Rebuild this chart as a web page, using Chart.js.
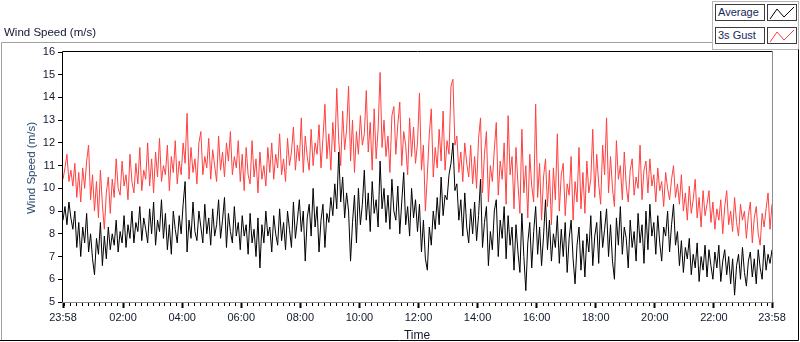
<!DOCTYPE html>
<html>
<head>
<meta charset="utf-8">
<script src="https://cdn.jsdelivr.net/npm/chart.js@4.4.1/dist/chart.umd.min.js"></script>
<style>
body { margin: 0; background: #fff; }
#wrap { position: relative; width: 800px; height: 342px; overflow: hidden; font-family: "Liberation Sans", Arial, sans-serif; }
#windChart { position: absolute; left: 0; top: 0; }
.txt { position: absolute; white-space: nowrap; color: #10182e; }
.legBox { position: absolute; left: 715px; width: 46px; height: 15px; border: 1px solid #3c3c3c; background: #fff; font-size: 11px; line-height: 15px; padding-left: 2px; color: #14285a; box-sizing: content-box; }
.legLine { position: absolute; left: 767px; width: 28px; height: 15px; border: 1px solid #3c3c3c; background: #fff; }
</style>
</head>
<body>
<div id="wrap">
  <canvas id="windChart" width="800" height="342"></canvas>
  <div class="txt" style="left:4px;top:25px;font-size:11.5px;line-height:14px;">Wind Speed (m/s)</div>
  <div class="txt" style="left:31px;top:168px;font-size:11.5px;line-height:14px;color:#23456e;transform:translate(-50%,-50%) rotate(-90deg);">Wind Speed (m/s)</div>
  <div class="txt" style="left:417px;top:335px;font-size:12px;line-height:14px;transform:translate(-50%,-50%);">Time</div>
  <div class="legBox" style="top:4px;">Average</div>
  <div class="legLine" style="top:4px;"><svg width="28" height="15"><polyline points="2,14 9,4 16,12 26,2" fill="none" stroke="#000" stroke-width="1"/></svg></div>
  <div class="legBox" style="top:27px;">3s Gust</div>
  <div class="legLine" style="top:27px;"><svg width="28" height="15"><polyline points="2,14 9,4 16,12 26,2" fill="none" stroke="#ff4040" stroke-width="1"/></svg></div>
</div>
<script>
// one sample every 4 minutes, starting at 23:58 (minute 0)
const stepMinutes = 4;

const avgSpeed = [
    8.6, 9.2, 8.4, 9.4, 8.7, 8.2, 9.0, 7.4, 8.5, 7.0,
    8.3, 7.6, 8.9, 7.2, 8.0, 6.9, 6.2, 7.8, 7.1, 8.5,
    6.6, 7.9, 6.9, 8.3, 7.3, 8.0, 7.5, 8.6, 7.2, 8.1,
    7.6, 8.8, 7.4, 8.4, 7.8, 9.0, 7.6, 8.5, 8.1, 9.2,
    7.7, 8.7, 8.2, 7.6, 9.1, 8.0, 9.4, 7.5, 8.6, 8.1,
    9.5, 7.8, 8.9, 7.3, 8.4, 7.1, 9.0, 8.2, 7.6, 8.8,
    8.0, 9.3, 10.3, 7.2, 8.6, 7.8, 9.4, 8.1, 7.7, 9.0,
    8.3, 7.6, 9.3, 8.0, 8.7, 7.5, 9.1, 7.9, 8.4, 9.5,
    7.8, 8.6, 9.6, 7.4, 8.9, 8.1, 7.6, 9.2, 7.9, 8.5,
    7.3, 8.8, 7.9, 8.4, 7.1, 8.9, 7.6, 8.2, 7.0, 8.7,
    6.5, 8.4, 7.6, 9.0, 7.9, 8.3, 7.2, 8.8, 8.0, 7.5,
    9.1, 7.7, 8.5, 7.3, 9.0, 8.2, 7.4, 9.4, 7.8, 8.6,
    9.5, 8.1, 9.0, 6.8, 8.7, 9.3, 7.9, 10.0, 8.3, 9.2,
    7.2, 8.6, 9.3, 7.4, 8.9, 8.5, 9.6, 8.8, 10.2, 9.1,
    11.6, 9.4, 10.5, 8.7, 9.8, 9.0, 6.8, 8.5, 9.7, 7.6,
    10.0, 8.4, 9.3, 10.8, 8.6, 9.8, 8.1, 10.3, 8.9, 9.5,
    8.3, 11.2, 9.1, 10.0, 8.5, 9.7, 8.2, 10.4, 9.0, 8.6,
    10.1, 8.0, 9.4, 10.7, 8.4, 9.2, 7.9, 10.0, 8.7, 9.5,
    8.1, 9.3, 7.2, 8.6, 6.9, 6.4, 8.3, 7.5, 9.0, 8.2,
    9.6, 8.4, 10.5, 8.8, 9.7, 9.5, 10.6, 11.1, 12.0, 9.9,
    10.2, 8.6, 9.5, 7.9, 9.8, 8.3, 7.6, 9.1, 8.0, 9.4,
    7.7, 8.8, 10.4, 7.4, 8.5, 9.2, 6.6, 8.1, 7.3, 9.0,
    9.5, 7.0, 8.6, 7.8, 9.2, 6.9, 8.8, 7.5, 8.3, 6.4,
    8.4, 7.2, 6.3, 8.9, 7.0, 5.5, 7.6, 8.5, 6.5, 8.1,
    9.2, 7.1, 8.3, 6.6, 7.9, 9.5, 7.3, 8.6, 6.8, 8.0,
    7.4, 8.8, 6.7, 8.2, 7.0, 8.5, 6.3, 7.8, 8.6, 6.9,
    5.8, 7.5, 8.3, 6.4, 7.7, 6.1, 8.0, 7.2, 8.8, 6.6,
    7.9, 8.5, 6.7, 9.0, 7.4, 8.2, 9.1, 7.0, 8.4, 6.8,
    6.0, 8.7, 7.5, 9.2, 7.1, 8.3, 7.8, 6.5, 8.6, 7.4,
    8.1, 6.8, 8.9, 7.6, 8.4, 6.7, 9.0, 7.3, 9.3, 7.9,
    8.5, 7.1, 8.8, 7.6, 6.8, 8.3, 7.9, 9.0, 7.2, 8.4,
    9.3, 7.5, 8.1, 6.6, 7.7, 6.3, 7.4, 6.9, 7.8, 6.2,
    7.1, 6.5, 7.6, 5.9, 7.0, 6.4, 7.5, 6.1, 7.3, 6.6,
    6.0, 7.2, 6.5, 7.5, 5.9, 6.8, 7.3, 6.2, 7.0, 5.8,
    6.9, 5.3, 6.6, 7.1, 6.0, 7.4, 6.3, 5.7, 6.8, 7.2,
    6.1, 6.9, 5.8, 7.3, 6.5, 6.0, 7.5, 6.4, 7.1, 6.7,
    7.3
];

const gustSpeed = [
    10.4, 10.9, 11.5, 10.3, 10.8, 10.1, 11.1, 9.6, 10.7, 9.4,
    10.9, 10.0, 11.2, 11.9, 9.5, 10.6, 9.0, 10.3, 8.7, 10.8,
    9.3, 8.2, 9.8, 10.5, 8.9, 10.4, 9.6, 11.3, 10.0, 9.7,
    11.2, 10.1, 10.6, 9.5, 11.5, 10.3, 9.8, 11.1, 10.2, 11.8,
    9.9, 10.8, 10.4, 12.0, 10.1, 11.3, 9.8, 11.6, 10.5, 12.2,
    10.3, 11.0, 10.6, 11.9, 9.9, 11.4, 10.7, 12.1, 10.2, 11.2,
    10.6, 12.0, 11.1, 13.3, 10.4, 11.8, 10.7, 11.3, 10.2, 12.0,
    12.5, 10.6, 11.4, 10.9, 12.2, 10.4, 11.7, 11.0, 10.3, 12.3,
    10.8, 11.6, 10.5, 12.0, 11.2, 12.5, 10.6, 11.4, 10.9, 12.1,
    10.3, 11.5, 9.9, 11.8, 10.6, 10.2, 12.1, 10.5, 11.3, 9.8,
    11.6, 10.4, 11.0, 10.1, 11.8, 10.7, 12.0, 10.4, 11.5, 10.9,
    12.4, 10.6, 11.3, 10.3, 12.2, 11.0, 11.6, 12.7, 10.8, 11.9,
    11.2, 13.1, 10.7, 12.3, 11.4, 10.8, 12.6, 11.0, 12.0, 11.5,
    12.8, 10.9, 12.2, 13.7, 11.3, 12.4, 10.8, 12.9, 11.6, 14.4,
    12.1, 11.0, 13.4, 11.7, 12.6, 14.5, 11.2, 13.0, 10.7, 12.5,
    11.5, 13.2, 11.9, 12.4, 14.3, 11.6, 12.9, 10.8, 13.5, 11.3,
    12.6, 15.1, 11.8, 13.0, 11.4, 12.3, 10.7, 13.2, 13.6, 11.5,
    12.8, 13.8, 11.0, 12.5, 11.9, 10.6, 13.1, 11.4, 12.7, 11.1,
    12.0, 14.2, 10.8, 11.9, 9.0, 10.6, 12.4, 13.5, 10.5, 11.8,
    10.9, 12.6, 11.2, 13.4, 10.8, 12.1, 11.5, 14.5, 14.8, 11.9,
    12.3, 10.7, 11.6, 10.3, 12.0, 11.1, 10.5, 11.9, 10.2, 11.4,
    10.0, 12.2, 13.1, 9.8, 11.5, 12.5, 9.4, 11.0, 10.3, 11.7,
    12.9, 9.7, 11.2, 10.4, 12.0, 9.3, 13.2, 10.6, 11.4, 9.1,
    11.8, 10.2, 8.9, 12.6, 9.8, 11.0, 8.7, 11.5, 10.1, 9.4,
    13.7, 9.6, 11.1, 8.6, 10.5, 11.3, 9.2, 10.8, 8.4, 10.9,
    9.5, 12.4, 9.0, 10.6, 11.1, 8.8, 10.2, 9.7, 11.4, 8.6,
    10.3, 9.4, 11.8, 9.1, 10.7, 8.9, 11.2, 9.8, 10.4, 12.6,
    9.6, 11.5, 10.2, 9.3, 11.9, 10.6, 13.1, 9.8, 11.4, 10.0,
    9.2, 12.1, 10.4, 11.0, 9.5, 11.6, 10.1, 9.4, 10.8, 11.3,
    9.7, 10.5, 10.0, 11.9, 9.5, 10.8, 11.2, 9.8, 11.3, 10.1,
    10.6, 9.4, 10.9, 9.9, 10.3, 9.2, 10.7, 10.0, 9.5, 10.4,
    11.0, 9.6, 10.2, 9.3, 10.6, 9.0, 9.8, 8.6, 10.1, 8.9,
    9.5, 10.4, 8.7, 9.6, 8.3, 9.9, 8.8, 9.3, 9.9, 8.5,
    9.4, 8.2, 9.1, 8.6, 9.5, 8.0, 9.2, 9.9, 8.4, 9.0,
    8.1, 9.6, 8.5, 7.9, 9.3, 8.6, 9.0, 7.8, 8.8, 9.4,
    7.6, 8.7, 9.2, 8.0, 7.5, 8.9, 8.3, 9.1, 9.8, 8.2,
    9.3
];

// major ticks (minutes after 23:58) and their labels
const tickMinutes = [0, 122, 242, 362, 482, 602, 722, 842, 962, 1082, 1202, 1322, 1440];
const tickLabels = ["23:58", "02:00", "04:00", "06:00", "08:00", "10:00", "12:00", "14:00", "16:00", "18:00", "20:00", "22:00", "23:58"];

const toPoints = arr => arr.map((v, i) => ({ x: i * stepMinutes, y: v }));

// frame, plot border and minor ticks, LabVIEW style
const framePlugin = {
    id: "frame",
    afterDraw(chart) {
        const ctx = chart.ctx;
        const a = chart.chartArea;
        const xs = chart.scales.x;
        ctx.save();
        ctx.lineWidth = 1;

        // outer panel
        ctx.strokeStyle = "#a0a0a0";
        ctx.beginPath();
        ctx.moveTo(1.5, 341); ctx.lineTo(1.5, 42.5); ctx.lineTo(712.5, 42.5);
        ctx.stroke();
        ctx.strokeStyle = "#b4b4b4";
        ctx.strokeRect(712.5, 1.5, 86, 48);
        ctx.strokeStyle = "#000";
        ctx.beginPath();
        ctx.moveTo(798.5, 49.5); ctx.lineTo(798.5, 340.5); ctx.lineTo(0, 340.5);
        ctx.stroke();

        // plot border: dark top/left, grey bottom/right
        ctx.strokeStyle = "#000";
        ctx.beginPath();
        ctx.moveTo(a.left - 0.5, a.bottom); ctx.lineTo(a.left - 0.5, a.top - 0.5); ctx.lineTo(a.right + 0.5, a.top - 0.5);
        ctx.stroke();
        ctx.strokeStyle = "#8c8c8c";
        ctx.beginPath();
        ctx.moveTo(a.right + 0.5, a.top); ctx.lineTo(a.right + 0.5, a.bottom + 0.5); ctx.lineTo(a.left - 1, a.bottom + 0.5);
        ctx.stroke();

        // minor ticks every 12 minutes
        ctx.strokeStyle = "#000";
        ctx.beginPath();
        for (let m = 2; m < 1440; m += 12) {
            if (tickMinutes.includes(m)) continue;
            const px = Math.round(xs.getPixelForValue(m)) + 0.5;
            ctx.moveTo(px, a.bottom + 1);
            ctx.lineTo(px, a.bottom + 4);
        }
        ctx.stroke();
        ctx.restore();
    }
};

const windChart = new Chart(document.getElementById("windChart"), {
    type: "line",
    data: {
        datasets: [{
            label: "Average",
            data: toPoints(avgSpeed),
            borderColor: "#000000",
            borderWidth: 1,
            pointRadius: 0,
            tension: 0,
        }, {
            label: "3s Gust",
            data: toPoints(gustSpeed),
            borderColor: "#ff4040",
            borderWidth: 1,
            pointRadius: 0,
            tension: 0,
        }],
    },
    options: {
        responsive: false,
        animation: false,
        devicePixelRatio: 1,
        layout: { padding: { top: 52, right: 28, bottom: 0, left: 0 } },
        plugins: { legend: { display: false }, tooltip: { enabled: false } },
        scales: {
            x: {
                type: "linear",
                min: 0,
                max: 1440,
                afterBuildTicks: scale => { scale.ticks = tickMinutes.map(v => ({ value: v })); },
                afterFit: scale => { scale.height = 40; },
                ticks: {
                    autoSkip: false,
                    maxRotation: 0,
                    padding: 3,
                    color: "#10182e",
                    font: { family: "Liberation Sans", size: 11 },
                    callback: v => tickLabels[tickMinutes.indexOf(v)],
                },
                grid: { drawOnChartArea: false, tickLength: 6, tickWidth: 2, tickColor: "#000" },
                border: { display: false },
            },
            y: {
                min: 5,
                max: 16,
                afterFit: scale => { scale.width = 63; },
                ticks: {
                    stepSize: 1,
                    padding: 3,
                    color: "#10182e",
                    font: { family: "Liberation Sans", size: 11 },
                },
                grid: { drawOnChartArea: false, tickLength: 5, tickColor: "#000" },
                border: { display: false },
            },
        },
    },
    plugins: [framePlugin],
});
</script>
</body>
</html>
